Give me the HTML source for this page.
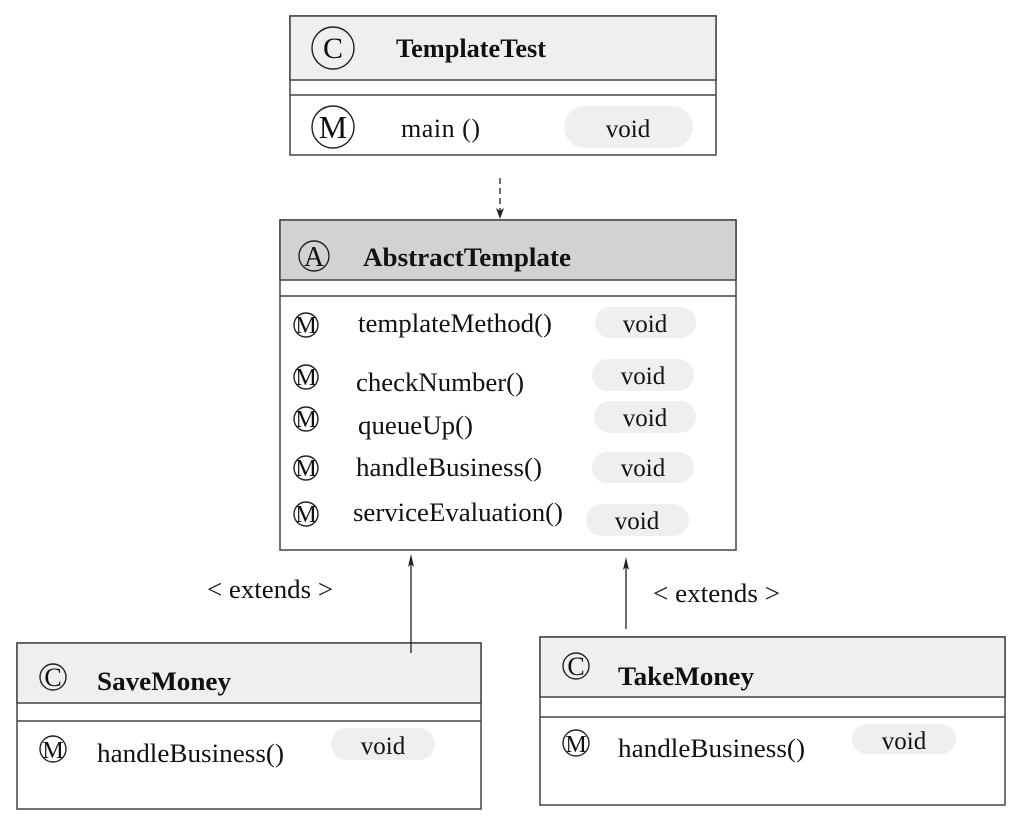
<!DOCTYPE html>
<html><head><meta charset="utf-8"><style>
html,body{margin:0;padding:0;background:#fff;width:1013px;height:824px;overflow:hidden}
svg text{font-family:"Liberation Serif",serif;fill:#111}
</style></head><body>
<svg width="1013" height="824" viewBox="0 0 1013 824" xmlns="http://www.w3.org/2000/svg">
<g stroke="#444" stroke-width="1.5" fill="none">
<rect x="290" y="16" width="426" height="139" fill="#fff"/>
<rect x="290" y="16" width="426" height="64" fill="#efefef"/>
<line x1="290" y1="95" x2="716" y2="95"/>
<rect x="280" y="220" width="456" height="330" fill="#fff"/>
<rect x="280" y="220" width="456" height="60" fill="#d2d2d2"/>
<line x1="280" y1="296" x2="736" y2="296"/>
<rect x="17" y="643" width="464" height="166" fill="#fff"/>
<rect x="17" y="643" width="464" height="60" fill="#efefef"/>
<line x1="17" y1="721" x2="481" y2="721"/>
<rect x="540" y="637" width="465" height="168" fill="#fff"/>
<rect x="540" y="637" width="465" height="60" fill="#efefef"/>
<line x1="540" y1="717" x2="1005" y2="717"/>
</g>
<g fill="#efefef">
<rect x="564" y="106" width="129" height="42" rx="21"/>
<rect x="595" y="307" width="101" height="31" rx="15.5"/>
<rect x="592" y="359" width="102" height="32" rx="16"/>
<rect x="594" y="401" width="102" height="32" rx="16"/>
<rect x="592" y="452" width="102" height="31" rx="15.5"/>
<rect x="586" y="504" width="103" height="32" rx="16"/>
<rect x="331" y="728" width="104" height="32" rx="16"/>
<rect x="852" y="724" width="104" height="30" rx="15"/>
</g>
<g fill="none" stroke="#222" stroke-width="1.4">
<circle cx="333" cy="48" r="21"/>
<circle cx="333" cy="127" r="21"/>
<circle cx="314" cy="256" r="15"/>
<circle cx="306" cy="325" r="12"/>
<circle cx="306" cy="377" r="12"/>
<circle cx="306" cy="419" r="12"/>
<circle cx="306" cy="468" r="12"/>
<circle cx="306" cy="514" r="12"/>
<circle cx="53" cy="677" r="13"/>
<circle cx="53" cy="749" r="13"/>
<circle cx="576" cy="666" r="13"/>
<circle cx="576" cy="743" r="13"/>
</g>
<g text-anchor="middle">
<text x="333" y="58" font-size="30">C</text>
<text x="333" y="138" font-size="32">M</text>
<text x="314" y="266" font-size="28">A</text>
<text x="306" y="333" font-size="24">M</text>
<text x="306" y="385" font-size="24">M</text>
<text x="306" y="427" font-size="24">M</text>
<text x="306" y="476" font-size="24">M</text>
<text x="306" y="522" font-size="24">M</text>
<text x="53" y="686" font-size="26">C</text>
<text x="53" y="758" font-size="24">M</text>
<text x="576" y="675" font-size="26">C</text>
<text x="576" y="752" font-size="24">M</text>
</g>
<g font-size="26">
<text x="396" y="57" font-weight="bold" textLength="150" lengthAdjust="spacingAndGlyphs">TemplateTest</text>
<text x="401" y="137" textLength="79">main ()</text>
<text x="363" y="266" font-weight="bold" textLength="208" lengthAdjust="spacingAndGlyphs">AbstractTemplate</text>
<text x="358" y="332" textLength="194" lengthAdjust="spacingAndGlyphs">templateMethod()</text>
<text x="356" y="391" textLength="168" lengthAdjust="spacingAndGlyphs">checkNumber()</text>
<text x="358" y="434" textLength="115" lengthAdjust="spacingAndGlyphs">queueUp()</text>
<text x="356" y="476" textLength="186" lengthAdjust="spacingAndGlyphs">handleBusiness()</text>
<text x="353" y="521" textLength="210" lengthAdjust="spacingAndGlyphs">serviceEvaluation()</text>
<text x="97" y="690" font-weight="bold" textLength="134" lengthAdjust="spacingAndGlyphs">SaveMoney</text>
<text x="97" y="762" textLength="187" lengthAdjust="spacingAndGlyphs">handleBusiness()</text>
<text x="618" y="685" font-weight="bold" textLength="136" lengthAdjust="spacingAndGlyphs">TakeMoney</text>
<text x="618" y="757" textLength="187" lengthAdjust="spacingAndGlyphs">handleBusiness()</text>
<text x="207" y="598" textLength="126" lengthAdjust="spacingAndGlyphs">&lt; extends &gt;</text>
<text x="653" y="602" textLength="127" lengthAdjust="spacingAndGlyphs">&lt; extends &gt;</text>
</g>
<g font-size="25" text-anchor="middle">
<text x="628" y="137">void</text>
<text x="645" y="332">void</text>
<text x="643" y="384">void</text>
<text x="645" y="426">void</text>
<text x="643" y="476">void</text>
<text x="637" y="529">void</text>
<text x="383" y="754">void</text>
<text x="904" y="749">void</text>
</g>
<g stroke="#222" stroke-width="1.3" fill="none">
<line x1="500" y1="178" x2="500" y2="212" stroke-dasharray="6,4"/>
<line x1="411" y1="653" x2="411" y2="560"/>
<line x1="626" y1="629" x2="626" y2="563"/>
</g>
<g fill="#222">
<path d="M500,219 L496,208 L500,211 L504,208 Z"/>
<path d="M411,554 L408,567 L411,564 L414,567 Z"/>
<path d="M626,557 L623,570 L626,567 L629,570 Z"/>
</g>
</svg>
</body></html>
